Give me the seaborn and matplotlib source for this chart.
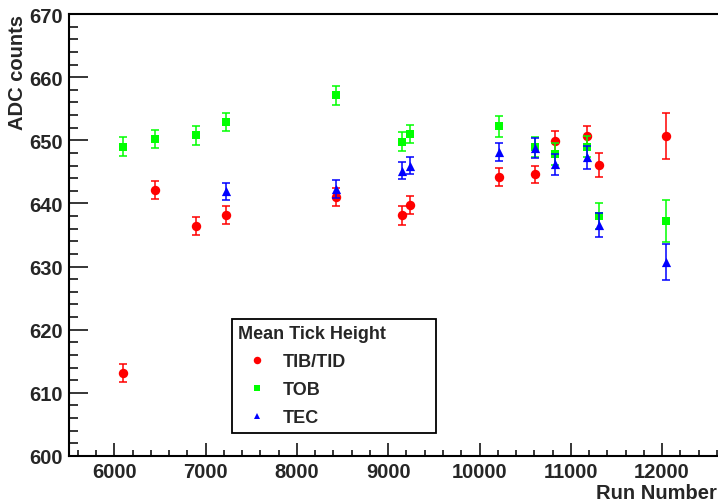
import numpy as np
import pandas as pd
import matplotlib
matplotlib.use("Agg")
import matplotlib.pyplot as plt
from matplotlib.lines import Line2D
from matplotlib.ticker import MultipleLocator
import seaborn as sns

# ---- data ----
runs = [6100, 6450, 6890, 7220, 8430, 9148, 9242, 10213, 10611, 10824, 11174, 11312, 12043]
tib_adc = [613.1, 642.1, 636.4, 638.2, 641.0, 638.1, 639.7, 644.2, 644.6, 649.9, 650.6, 646.1, 650.7]
tib_err = [1.45, 1.4, 1.4, 1.4, 1.4, 1.45, 1.45, 1.45, 1.4, 1.6, 1.65, 1.9, 3.7]
tob_adc = [649.0, 650.2, 650.8, 652.9, 657.1, 649.8, 651.0, 652.2, 648.9, 647.8, 649.0, 638.0, 637.2]
tob_err = [1.45, 1.5, 1.5, 1.5, 1.5, 1.5, 1.5, 1.7, 1.6, 1.7, 1.6, 2.1, 3.3]
tec_runs = [7220, 8430, 9148, 9242, 10213, 10611, 10824, 11174, 11312, 12043]
tec_adc = [641.9, 642.3, 645.2, 646.0, 648.1, 648.8, 646.2, 647.3, 636.6, 630.7]
tec_err = [1.4, 1.4, 1.3, 1.4, 1.45, 1.6, 1.7, 1.8, 1.9, 2.8]

series_names = ["TIB/TID", "TOB", "TEC"]
colors = {"TIB/TID": "#ff0000", "TOB": "#00ff00", "TEC": "#0000ff"}
markers = {"TIB/TID": "o", "TOB": "s", "TEC": "^"}
sizes = {"TIB/TID": 46, "TOB": 38, "TEC": 44}

df = pd.concat([
    pd.DataFrame({"run": runs, "adc": tib_adc, "err": tib_err, "series": "TIB/TID"}),
    pd.DataFrame({"run": runs, "adc": tob_adc, "err": tob_err, "series": "TOB"}),
    pd.DataFrame({"run": tec_runs, "adc": tec_adc, "err": tec_err, "series": "TEC"}),
], ignore_index=True)

sns.set_style("ticks")
plt.rcParams["font.family"] = ["Liberation Sans", "DejaVu Sans"]
plt.rcParams["font.weight"] = "bold"
plt.rcParams["axes.labelweight"] = "bold"

fig = plt.figure(figsize=(7.18, 5.02), dpi=100)
# x scale: 91.3 px per 1000 runs; axis runs past the right edge as in the reference
axw = 7400 * 0.0913
ax = fig.add_axes([68.65 / 718, 45 / 502, axw / 718, 442 / 502])

for i, name in enumerate(series_names):
    sub = df[df["series"] == name]
    ax.errorbar(sub["run"], sub["adc"], yerr=sub["err"], fmt="none",
                ecolor=colors[name], elinewidth=1.1, capsize=3, capthick=1.1,
                zorder=2 + 2 * i)
    sns.scatterplot(data=sub, x="run", y="adc", color=colors[name],
                    marker=markers[name], s=sizes[name], linewidth=0,
                    legend=False, ax=ax, zorder=3 + 2 * i)

ax.set_xlim(5500, 12900)
ax.set_ylim(600, 670)
ax.xaxis.set_major_locator(MultipleLocator(1000))
ax.xaxis.set_minor_locator(MultipleLocator(200))
ax.yaxis.set_major_locator(MultipleLocator(10))
ax.yaxis.set_minor_locator(MultipleLocator(2))

ax.tick_params(axis="x", which="major", direction="in", length=9.6, width=1.1,
               pad=4.3, labelsize=14.5, color="black")
ax.tick_params(axis="x", which="minor", direction="in", length=4.3, width=1.1, color="black")
ax.tick_params(axis="y", which="major", direction="in", length=13.9, width=1.1,
               pad=4.3, labelsize=14.5, color="black")
ax.tick_params(axis="y", which="minor", direction="in", length=6.7, width=1.1, color="black")
for lab in ax.get_xticklabels() + ax.get_yticklabels():
    lab.set_fontweight("bold")

for sp in ax.spines.values():
    sp.set_linewidth(1.5)
    sp.set_color("black")
    sp.set_visible(True)

ax.set_xlabel("Run Number", fontsize=14.5, fontweight="bold", loc="right")
ax.xaxis.set_label_coords((717 - 68.65) / axw, (457 - 484) / 442)
ax.set_ylabel("ADC counts", fontsize=14.5, fontweight="bold", loc="top")
ax.yaxis.set_label_coords((27 - 68.65) / axw, 1.0)

handles = [Line2D([], [], linestyle="none", marker=markers[n], color=colors[n],
                  markersize={"TIB/TID": 5.4, "TOB": 4.6, "TEC": 4.8}[n],
                  markeredgewidth=0) for n in series_names]
leg = ax.legend(handles, series_names, title="Mean Tick Height",
                loc="upper left",
                bbox_to_anchor=(232 / 718, 1 - 319.5 / 502, (436 - 232) / 718, 0.0),
                bbox_transform=fig.transFigure, mode="expand", borderaxespad=0,
                frameon=True, fancybox=False, edgecolor="black", framealpha=1,
                prop={"size": 13, "weight": "bold"},
                title_fontproperties={"size": 13, "weight": "bold"},
                borderpad=0.35, handlelength=2.1, handletextpad=0.35,
                labelspacing=0.62)
leg.get_frame().set_linewidth(1.3)
leg._legend_box.align = "left"

fig.savefig("out.png", dpi=100)
